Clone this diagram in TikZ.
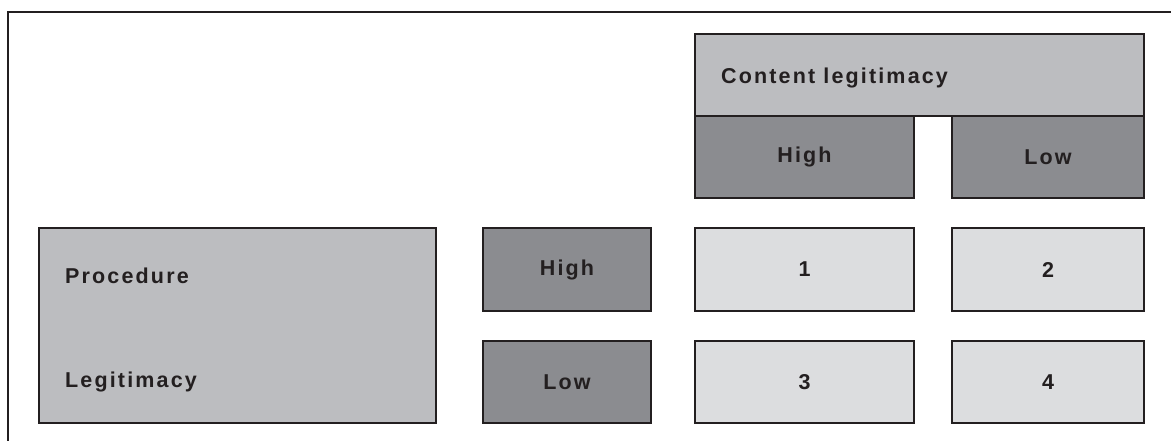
\documentclass[tikz,border=0pt]{standalone}
\usepackage{fontspec}
\setmainfont{Liberation Sans}
\newfontfamily\spacedfont{Liberation Sans}[LetterSpace=10]
\definecolor{ink}{HTML}{231F20}
\definecolor{midgray}{HTML}{BCBDC0}
\definecolor{darkgray}{HTML}{8B8C90}
\definecolor{palegray}{HTML}{DCDDDF}
\tikzset{
  box/.style={rectangle, draw=ink, line width=2.5pt, inner sep=0pt,
              text=ink, font=\spacedfont\bfseries\fontsize{21.5}{25}\selectfont},
  headbox/.style={box, fill=midgray},
  levelbox/.style={box, fill=darkgray},
  cellbox/.style={box, fill=palegray, font=\bfseries\fontsize{21.5}{25}\selectfont},
  label/.style={inner sep=0pt, text=ink, font=\spacedfont\bfseries\fontsize{21.5}{25}\selectfont},
  frame/.style={draw=ink, line width=2.8pt}
}
\begin{document}
\begin{tikzpicture}[x=1pt, y=-1pt]
  \useasboundingbox (0,0) rectangle (1171,440);
  % open outer frame
  \coordinate (frameTR) at (1175,12);
  \coordinate (frameTL) at (8,12);
  \coordinate (frameBL) at (8,444);
  \draw[frame] (frameTR) -- (frameTL) -- (frameBL);

  % column header
  \node[headbox, minimum width=449pt, minimum height=82pt] (content) at (919.5,75) {};
  \node[label, anchor=base west] (contentlab) at (721,83) {Content legitimacy};
  \node[levelbox, minimum width=219pt, minimum height=82pt] (colhigh) at (804.5,157) {High};
  \node[levelbox, minimum width=192pt, minimum height=82pt] (collow) at (1048,157) {Low};

  % row header
  \node[headbox, minimum width=397pt, minimum height=195pt] (proc) at (237.5,325.5) {};
  \node[label, anchor=base west] (proclab) at (65,283) {Procedure};
  \node[label, anchor=base west] (legitlab) at (65,387) {Legitimacy};
  \node[levelbox, minimum width=168pt, minimum height=83pt] (rowhigh) at (567,269.5) {High};
  \node[levelbox, minimum width=168pt, minimum height=82pt] (rowlow) at (567,382) {Low};

  % cells
  \node[cellbox, minimum width=219pt, minimum height=83pt] (c1) at (804.5,269.5) {1};
  \node[cellbox, minimum width=192pt, minimum height=83pt] (c2) at (1048,269.5) {2};
  \node[cellbox, minimum width=219pt, minimum height=82pt] (c3) at (804.5,382) {3};
  \node[cellbox, minimum width=192pt, minimum height=82pt] (c4) at (1048,382) {4};
\end{tikzpicture}
\end{document}
